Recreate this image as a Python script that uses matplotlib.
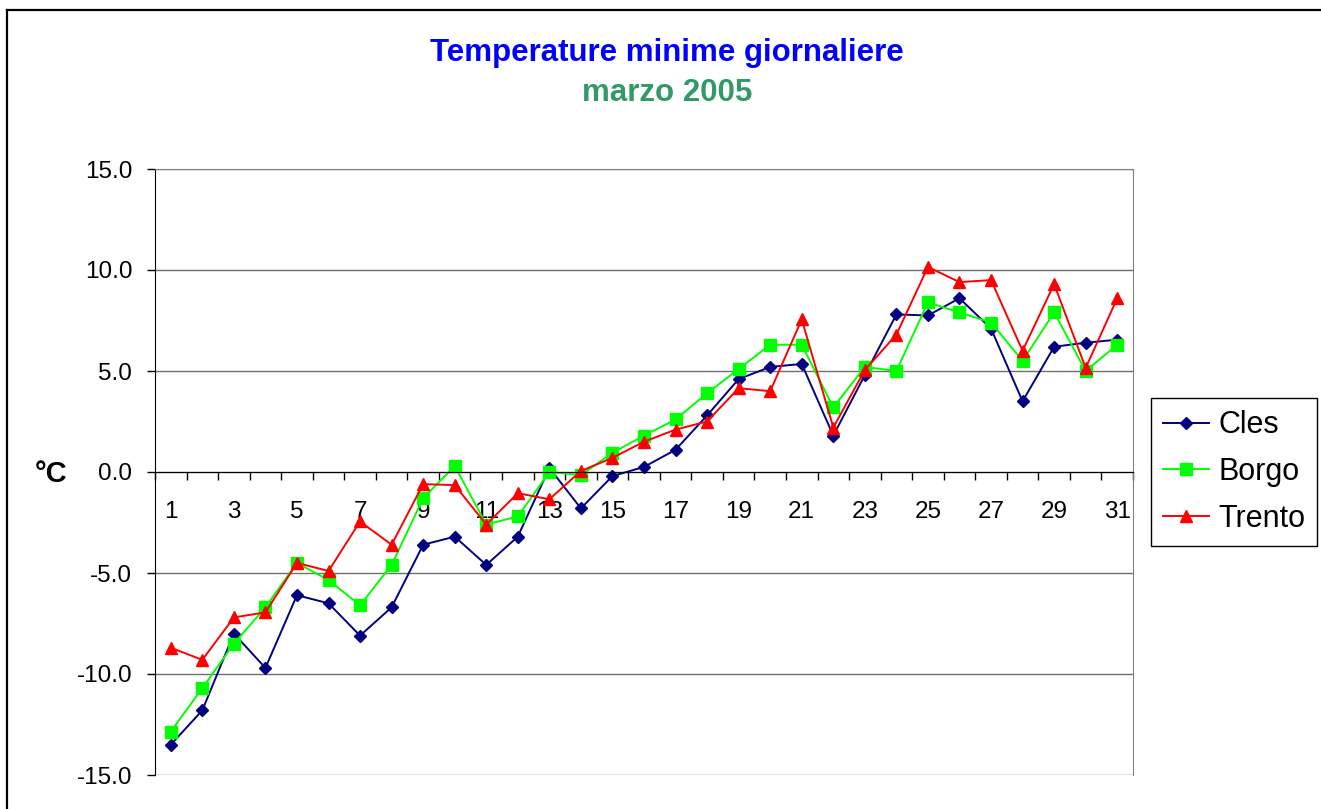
import numpy as np
import matplotlib.pyplot as plt
from matplotlib.lines import Line2D

plt.rcParams['font.family'] = ['Liberation Sans', 'DejaVu Sans']

# Daily minimum temperatures, March 2005
days = list(range(1, 32))
cles = [-13.5, -11.8, -8.0, -9.7, -6.1, -6.5, -8.1, -6.7, -3.6, -3.2,
        -4.6, -3.2, 0.2, -1.8, -0.2, 0.25, 1.1, 2.8, 4.6, 5.2,
        5.35, 1.8, 4.8, 7.8, 7.75, 8.6, 7.1, 3.5, 6.2, 6.4, 6.55]
borgo = [-12.85, -10.7, -8.5, -6.7, -4.5, -5.35, -6.6, -4.6, -1.3, 0.3,
         -2.6, -2.2, 0.0, -0.15, 0.95, 1.8, 2.6, 3.9, 5.1, 6.3,
         6.3, 3.2, 5.2, 5.0, 8.4, 7.9, 7.4, 5.5, 7.9, 5.0, 6.3]
trento = [-8.7, -9.3, -7.2, -6.95, -4.5, -4.9, -2.45, -3.6, -0.6, -0.65,
          -2.6, -1.05, -1.35, 0.05, 0.7, 1.5, 2.1, 2.5, 4.15, 4.0,
          7.55, 2.2, 5.05, 6.8, 10.15, 9.4, 9.5, 6.0, 9.3, 5.15, 8.6]
yticks = [-15, -10, -5, 0, 5, 10, 15]

W, H = 1321, 809
fig = plt.figure(figsize=(W / 100, H / 100), dpi=100)
ax = fig.add_axes([155 / W, 1 - 775 / H, (1133 - 155) / W, (775 - 169) / H])

ax.plot(days, cles, color='#000080', marker='D', ms=6.3, lw=1.4, label='Cles')
ax.plot(days, borgo, color='#00FF00', marker='s', ms=8, lw=1.4, label='Borgo')
ax.plot(days, trento, color='#FF0000', marker='^', ms=8.5, lw=1.4, label='Trento')

ax.set_xlim(0.5, 31.5)
ax.set_ylim(-15, 15)
ax.set_yticks(yticks)
ax.set_yticklabels(['%.1f' % v for v in yticks])
ax.yaxis.grid(True, color='#6e6e6e', lw=1)
ax.set_axisbelow(True)

# category axis crosses at zero, ticks between categories
ax.spines['bottom'].set_position(('data', 0))
ax.spines['bottom'].set_color('black')
ax.spines['left'].set_color('black')
for s in ['top', 'right']:
    ax.spines[s].set_color('#808080')
ax.set_xticks(days[::2])
ax.set_xticks(np.arange(0.5, 32, 1), minor=True)
ax.tick_params(axis='x', which='major', length=0, pad=21, labelsize=17.5)
ax.tick_params(axis='x', which='minor', direction='out', length=5.5, width=1)
ax.tick_params(axis='y', direction='out', length=5.8, width=1, pad=10.5, labelsize=17.5)

fig.text(667 / W, 1 - 53 / H, 'Temperature minime giornaliere', color='#0000FF',
         fontsize=22.5, fontweight='bold', ha='center', va='center')
fig.text(667 / W, 1 - 93 / H, 'marzo 2005', color='#339966',
         fontsize=22.5, fontweight='bold', ha='center', va='center')
fig.text(51 / W, 1 - 474 / H, '°C', fontsize=21, fontweight='bold',
         ha='center', va='center')

leg = ax.legend(loc='upper left', bbox_to_anchor=(1151 / W, 1 - 398 / H),
                bbox_transform=fig.transFigure, borderaxespad=0, fontsize=22,
                fancybox=False, framealpha=1, edgecolor='black',
                handlelength=1.5, handletextpad=0.3, labelspacing=0.55,
                borderpad=0.4)
leg.get_frame().set_linewidth(1)

# chart area border (top and left visible)
fig.add_artist(Line2D([6.5 / W, 6.5 / W], [0, 1 - 10 / H], color='black', lw=1.6,
                      transform=fig.transFigure))
fig.add_artist(Line2D([6.5 / W, 1], [1 - 10 / H, 1 - 10 / H], color='black', lw=1.6,
                      transform=fig.transFigure))

fig.savefig('out.png', dpi=100)
